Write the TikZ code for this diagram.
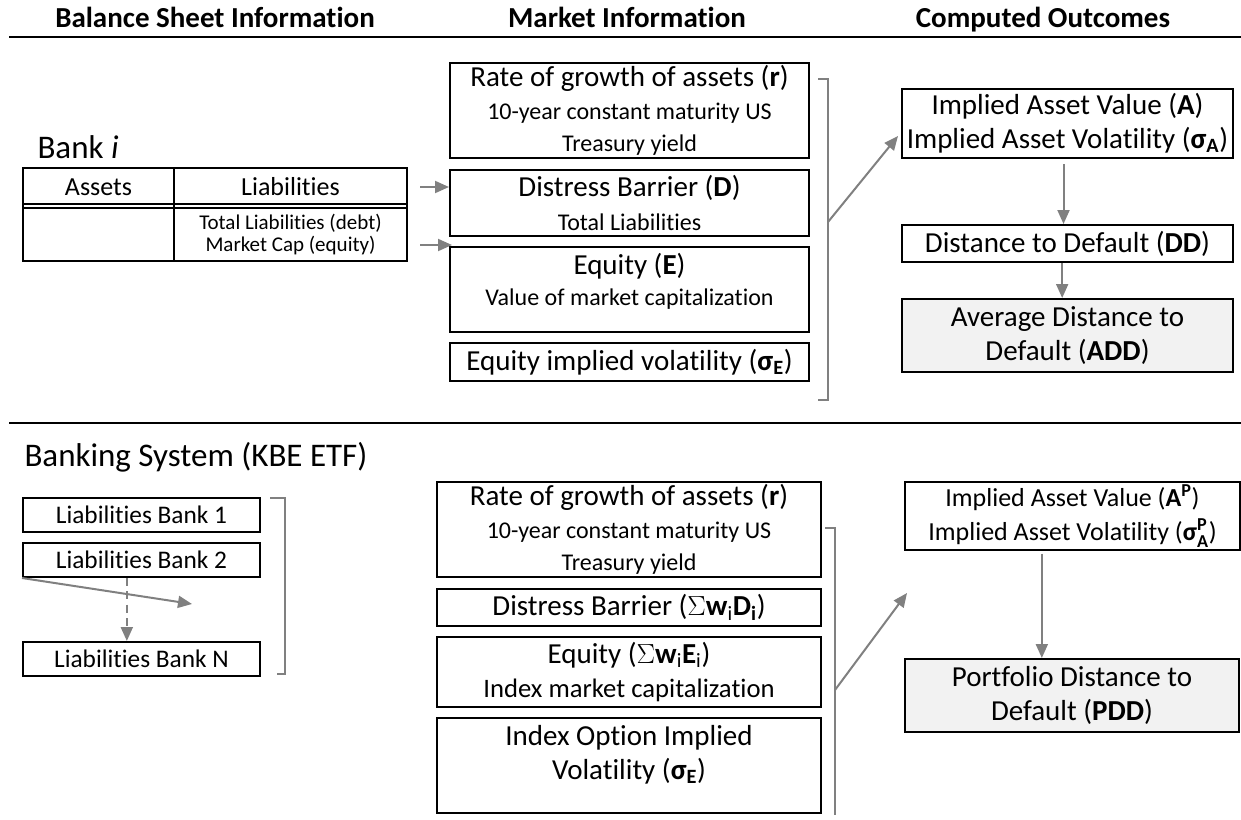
\documentclass[tikz,border=0pt]{standalone}
\usepackage{amsmath}
\usepackage{fontspec}
\setmainfont{Carlito}[Ligatures={TeX,NoCommon}]
\usetikzlibrary{arrows.meta,positioning}

\definecolor{arrgray}{RGB}{128,128,128}
\definecolor{boxfill}{RGB}{242,242,242}

\newcommand{\bigsz}{\fontsize{21.75}{25.5}\selectfont}
\newcommand{\smsz}{\fontsize{18}{22}\selectfont}

\tikzset{every picture/.style={line width=0.75pt}}
\tikzset{
  hdr/.style={font=\bfseries\bigsz, inner sep=0pt, anchor=base},
  rulel/.style={line width=1.5pt},
  sz/.style 2 args={minimum width=#1*0.75pt, minimum height=#2*0.75pt},
  box/.style={draw, line width=1.5pt, inner sep=0pt, align=center, font=\bigsz},
  outbox/.style={box, fill=boxfill},
  bankbox/.style={box, font=\fontsize{19}{23}\selectfont},
  boxtxt/.style={align=center, font=\bigsz, inner sep=2pt},
  garrow/.style={draw=arrgray, line width=1.5pt, -{Triangle[length=10.5pt,width=9pt]}},
  gline/.style={draw=arrgray, line width=1.2pt},
}

\begin{document}
\begin{tikzpicture}[x=0.75pt,y=0.75pt,yscale=-1,xscale=1]
        \useasboundingbox (0,0) rectangle (1241,820);

        % Text Node
        \node[hdr] (hbal) at (215,28) {Balance Sheet Information};
        % Text Node
        \node[hdr] (hmkt) at (627,28) {Market Information};
        % Text Node
        \node[hdr] (hout) at (1043,28) {Computed Outcomes};
        %Straight Lines
        \draw[rulel] (9,37) -- (1241,37);
        \draw[rulel] (9,423) -- (1241,423);

        %%% single bank
        % Text Node
        \node[anchor=west, inner sep=0pt, font=\fontsize{24.75}{28}\selectfont] (banki) at (37,147) {Bank \textit{i}};
        %Shape: Table
        \draw[line width=1.5pt] (23,168) rectangle (407,261);
        \draw[line width=1.5pt] (174,168) -- (174,261);
        \draw[line width=1pt] (23,204) -- (407,204);
        \draw[line width=1pt] (23,208) -- (407,208);
        % Text Node
        \node[font=\fontsize{19.5}{22}\selectfont] (assets) at (98.5,187) {Assets};
        \node[font=\fontsize{19.5}{22}\selectfont] (liabs) at (290.5,187) {Liabilities};
        \node[font=\fontsize{15.75}{19}\selectfont] (tdebt) at (290.5,223) {Total Liabilities (debt)};
        \node[font=\fontsize{15.75}{19}\selectfont] (mcap) at (290.5,246) {Market Cap (equity)};

        %Shape: Rectangle
        \node[box, sz={359}{95}] (rate) at (629.5,110.5) {Rate of growth of assets (\textbf{r})\\[-1pt]{\smsz 10-year constant maturity US}\\[-1pt]{\smsz Treasury yield}};
        \node[box, sz={359}{66}] (dbar) at (629.5,203) {Distress Barrier (\textbf{D})\\{\smsz Total Liabilities}};
        \node[box, sz={359}{85}] (equity) at (629.5,289.5) {};
        \node[boxtxt, below=3pt of equity.north] (equitytxt) {Equity (\textbf{E})\\[-2pt]{\smsz Value of market capitalization}};
        \node[box, sz={359}{38}] (sigE) at (629.5,362) {Equity implied volatility (\textbf{σ\textsubscript{E}})};

        %Straight Lines
        \coordinate (bsD) at (420,187);
        \coordinate (bsE) at (420,245);
        \coordinate (eqtip) at (452,245);
        \draw[garrow] (bsD) -- (dbar.west |- bsD);
        \draw[garrow] (bsE) -- (eqtip);

        %Straight Lines (bracket)
        \draw[gline] (818,79) -- (828,79) -- (828,400) -- (818,400);
        \coordinate (brA) at (828,222);
        \coordinate (implin) at (898,136);
        \draw[garrow] (brA) -- (implin);

        %Shape: Rectangle
        \node[box, sz={331}{69}] (impl) at (1067.5,123.5) {Implied Asset Value (\textbf{A})\\Implied Asset Volatility (\textbf{σ\textsubscript{A}})};
        \node[box, sz={331}{37}] (dd) at (1067.5,243.5) {Distance to Default (\textbf{DD})};
        \node[outbox, sz={331}{73}] (add) at (1067.5,335.5) {Average Distance to\\Default (\textbf{ADD})};
        \draw[garrow, shorten <=4pt] ([xshift=-3]impl.south) -- ([xshift=-3]dd.north);
        \draw[garrow] ([xshift=-4]dd.south) -- ([xshift=-4]add.north);

        %%% banking system
        % Text Node
        \node[anchor=west, inner sep=0pt, font=\fontsize{24.75}{28}\selectfont] (banksys) at (24,457) {Banking System (KBE ETF)};
        %Shape: Rectangle
        \node[bankbox, sz={237}{34}] (bank1) at (141.5,515) {Liabilities Bank 1};
        \node[bankbox, sz={237}{34}] (bank2) at (141.5,560) {Liabilities Bank 2};
        \node[bankbox, sz={237}{34}] (bankN) at (141.5,659) {Liabilities Bank N};
        %Straight Lines
        \coordinate (sumtip) at (192,604);
        \draw[garrow] (bank2.south west) -- (sumtip);
        \draw[garrow, dash pattern=on 6pt off 4pt] ([xshift=-11]bank2.south) -- ([xshift=-11]bankN.north);
        \draw[gline] (270,498) -- (285,498) -- (285,674) -- (277,674);

        %Shape: Rectangle
        \node[box, sz={384}{95}] (rateP) at (629,529.5) {Rate of growth of assets (\textbf{r})\\[-1pt]{\smsz 10-year constant maturity US}\\[-1pt]{\smsz Treasury yield}};
        \node[box, sz={384}{37}] (dbarP) at (629,607.5) {Distress Barrier ($\Sigma\mathbf{w}_{\mathrm{i}}$\textbf{D\textsubscript{i}})};
        \node[box, sz={384}{70}] (equityP) at (629,672) {Equity ($\Sigma\mathbf{w}_{\mathrm{i}}$\textbf{E}$_{\mathrm{i}}$)\\{\fontsize{20}{24}\selectfont Index market capitalization}};
        \node[box, sz={384}{95}] (idxvol) at (629,765.5) {};
        \node[boxtxt, below=4pt of idxvol.north] (idxvoltxt) {Index Option Implied\\Volatility (\textbf{σ\textsubscript{E}})};

        %Straight Lines (bracket)
        \draw[gline] (825,528) -- (835,528) -- (835,815);
        \coordinate (brP) at (835,690);
        \coordinate (implPin) at (907,593);
        \draw[garrow] (brP) -- (implPin);

        %Shape: Rectangle
        \node[box, sz={335}{68}, font=\fontsize{19.5}{25}\selectfont] (implP) at (1072.5,516) {Implied Asset Value (\textbf{A\textsuperscript{P}})\\Implied Asset Volatility (\textbf{σ}$^{\mathbf{P}}_{\mathbf{A}}$)};
        \node[outbox, sz={334}{73}] (pdd) at (1072,695.5) {Portfolio Distance to\\Default (\textbf{PDD})};
        \draw[garrow, shorten <=2pt] ([xshift=-23]implP.south) -- ([xshift=-23]implP.south |- pdd.north);
\end{tikzpicture}
\end{document}
